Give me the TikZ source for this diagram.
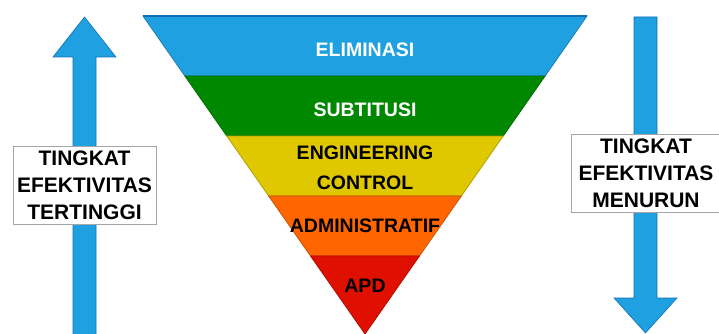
\documentclass[tikz,border=0pt]{standalone}
\usepackage{fontspec}
\setmainfont{Liberation Sans}
\usetikzlibrary{calc}

\definecolor{biru}{RGB}{30,160,225}
\definecolor{birutua}{RGB}{20,110,180}
\definecolor{hijau}{RGB}{0,136,0}
\definecolor{kuning}{RGB}{224,200,0}
\definecolor{oranye}{RGB}{255,102,0}
\definecolor{merah}{RGB}{224,16,0}

\begin{document}
\begin{tikzpicture}[x=1pt, y=-1pt,
	lapis/.style={draw=#1!80!black, line width=0.8pt, fill=#1},
	teks/.style={font=\bfseries\fontsize{19.5}{24}\selectfont, align=center},
	panah/.style={draw=birutua, line width=0.6pt, fill=biru},
	kotak/.style={draw=black!35, fill=white, line width=0.6pt, align=center, inner sep=0pt,
		minimum width=#1, minimum height=78pt,
		font=\bfseries\fontsize{21}{27}\selectfont}]
	\clip (0,0) rectangle (719,334);
	\useasboundingbox (0,0) rectangle (719,334);

	\coordinate (kiri) at (143,16);
	\coordinate (kanan) at (587,16);
	\coordinate (puncak) at (365,334);

	% lapisan segitiga
	\foreach \a/\b/\warna in {0/0.1887/biru, 0.1887/0.3774/hijau, 0.3774/0.566/kuning,
		0.566/0.7547/oranye}
		\draw[lapis=\warna] ($(kiri)!\a!(puncak)$) -- ($(kanan)!\a!(puncak)$)
			-- ($(kanan)!\b!(puncak)$) -- ($(kiri)!\b!(puncak)$) -- cycle;
	\draw[lapis=merah] ($(kiri)!0.7547!(puncak)$) -- ($(kanan)!0.7547!(puncak)$) -- (puncak) -- cycle;
	\draw[birutua, line width=1.2pt] (kiri) -- (kanan);

	\node[teks, white] (elim) at (365,50) {ELIMINASI};
	\node[teks, white] (subs) at (365,110) {SUBTITUSI};
	\node[teks, align=center, font=\bfseries\fontsize{19.5}{30}\selectfont] (eng) at (365,168) {ENGINEERING\\CONTROL};
	\node[teks] (adm) at (365,226) {ADMINISTRATIF};
	\node[teks] (apd) at (365,286) {APD};

	% panah kiri dan kanan
	\draw[panah] (84.5,17) -- (116,57) -- (96,57) -- (96,340) -- (73,340) -- (73,57) -- (53,57) -- cycle;
	\draw[panah] (645.5,333) -- (677,298) -- (657,298) -- (657,17) -- (634,17) -- (634,298) -- (614,298) -- cycle;

	\node[kotak=143pt] (naik) at (84.5,185) {TINGKAT\\EFEKTIVITAS\\TERTINGGI};
	\node[kotak=149pt] (turun) at (646,173) {TINGKAT\\EFEKTIVITAS\\MENURUN};
\end{tikzpicture}
\end{document}
